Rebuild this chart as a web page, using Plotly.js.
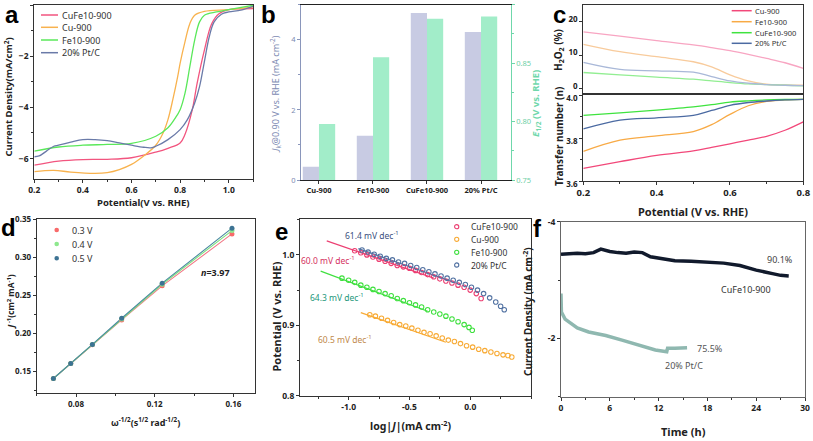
<!DOCTYPE html>
<html><head><meta charset="utf-8">
<script src="https://cdn.plot.ly/plotly-3.0.1.min.js"></script>
<style>html,body{margin:0;padding:0;background:#fff}#chart{width:813px;height:441px}</style>
</head><body><div id="chart"></div>
<script>
// ---------- Panel a : LSV ----------
const aV_CuFe = [0.2,0.3,0.4,0.5,0.6,0.7,0.75,0.8,0.82,0.85,0.87,0.9,0.93,0.96,1.0,1.05,1.1];
const aJ_CuFe = [-6.26,-6.10,-6.04,-6.03,-5.97,-5.75,-5.6,-5.39,-5.06,-4.1,-3.06,-1.76,-0.73,-0.34,-0.18,-0.15,-0.14];
const aV_Cu = [0.2,0.28,0.35,0.45,0.5,0.55,0.6,0.65,0.7,0.73,0.75,0.77,0.79,0.8,0.82,0.84,0.86,0.9,1.0,1.1];
const aJ_Cu = [-6.51,-6.46,-6.53,-6.58,-6.55,-6.43,-6.23,-5.9,-5.48,-5.0,-4.48,-3.7,-2.8,-2.28,-1.44,-0.73,-0.4,-0.25,-0.18,-0.08];
const aV_Fe = [0.2,0.3,0.4,0.5,0.6,0.7,0.75,0.78,0.8,0.82,0.84,0.86,0.88,0.9,0.95,1.0,1.1];
const aJ_Fe = [-5.71,-5.55,-5.48,-5.45,-5.41,-5.13,-4.8,-4.42,-4.09,-3.45,-2.41,-1.37,-0.66,-0.4,-0.27,-0.18,-0.01];
const aV_Pt = [0.2,0.22,0.25,0.28,0.3,0.35,0.4,0.45,0.5,0.55,0.6,0.65,0.68,0.7,0.75,0.8,0.83,0.86,0.88,0.9,0.92,0.94,0.97,1.0,1.05,1.1];
const aJ_Pt = [-5.93,-5.9,-5.71,-5.52,-5.48,-5.36,-5.26,-5.26,-5.30,-5.39,-5.48,-5.56,-5.58,-5.52,-5.26,-4.87,-4.48,-3.83,-3.19,-2.21,-1.24,-0.66,-0.36,-0.27,-0.2,-0.05];
const aNames = ['CuFe10-900','Cu-900','Fe10-900','20% Pt/C'];

// ---------- Panel b : bars ----------
const bCats = ['Cu-900','Fe10-900','CuFe10-900','20% Pt/C'];
const bJk = [0.38,1.26,4.76,4.22];
const bE12 = [0.798,0.855,0.888,0.890];

// ---------- Panel c : RRDE ----------
const cV = [0.2,0.3,0.4,0.5,0.55,0.6,0.65,0.7,0.75,0.8];
const cNames = ['Cu-900','Fe10-900','CuFe10-900','20% Pt/C'];
const cH2O2_Cu = [17.0,15.7,14.4,13.1,12.3,11.4,10.3,9.1,7.8,6.1];
const cH2O2_Fe = [13.3,11.1,9.6,8.1,6.6,4.2,2.4,1.4,1.2,1.1];
const cH2O2_CuFe = [4.9,4.2,3.5,2.9,2.4,1.9,1.5,1.3,1.1,0.9];
const cH2O2_Pt = [7.9,5.8,5.4,5.0,3.7,2.4,1.7,1.3,1.1,1.0];
const cN_Cu = [3.659,3.69,3.719,3.74,3.756,3.773,3.79,3.808,3.836,3.875];
const cN_Fe = [3.738,3.79,3.81,3.83,3.862,3.91,3.95,3.97,3.978,3.98];
const cN_CuFe = [3.905,3.917,3.93,3.945,3.955,3.967,3.973,3.977,3.979,3.98];
const cN_Pt = [3.842,3.883,3.894,3.905,3.928,3.952,3.965,3.972,3.977,3.98];

// ---------- Panel d : K-L ----------
const dW = [0.0685,0.0773,0.0883,0.1032,0.1238,0.1593];
const dJ_03 = [0.1404,0.1600,0.1848,0.2174,0.2622,0.3304];
const dJ_04 = [0.1404,0.1600,0.1850,0.2185,0.2643,0.3348];
const dJ_05 = [0.1404,0.1600,0.1852,0.2196,0.2657,0.3380];
const dNames = ['0.3 V','0.4 V','0.5 V'];

// ---------- Panel e : Tafel ----------
const eX_CuFe = [-0.95,-0.90,-0.85,-0.80,-0.75,-0.70,-0.65,-0.60,-0.55,-0.50,-0.45,-0.40,-0.35,-0.30,-0.25,-0.20,-0.15,-0.10,-0.05,0.00,0.05,0.09];
const eY_CuFe = [1.006,1.003,1.000,0.997,0.994,0.991,0.988,0.985,0.983,0.981,0.978,0.975,0.972,0.969,0.966,0.963,0.960,0.957,0.954,0.950,0.945,0.938];
const eX_Cu = [-0.826,-0.78,-0.73,-0.68,-0.63,-0.58,-0.53,-0.48,-0.43,-0.38,-0.33,-0.28,-0.23,-0.18,-0.13,-0.08,-0.03,0.02,0.07,0.12,0.17,0.22,0.27,0.31,0.342];
const eY_Cu = [0.915,0.913,0.910,0.907,0.904,0.901,0.899,0.896,0.893,0.890,0.888,0.885,0.882,0.879,0.877,0.874,0.871,0.869,0.866,0.864,0.862,0.860,0.858,0.857,0.855];
const eX_Fe = [-1.055,-1.0,-0.95,-0.90,-0.85,-0.80,-0.75,-0.70,-0.65,-0.60,-0.55,-0.50,-0.45,-0.40,-0.35,-0.30,-0.25,-0.20,-0.15,-0.10,-0.05,-0.01,0.017];
const eY_Fe = [0.967,0.964,0.961,0.957,0.954,0.951,0.948,0.945,0.942,0.938,0.935,0.932,0.929,0.926,0.922,0.919,0.916,0.913,0.909,0.905,0.901,0.897,0.893];
const eX_Pt = [-0.89,-0.84,-0.79,-0.74,-0.69,-0.64,-0.59,-0.54,-0.49,-0.44,-0.39,-0.34,-0.29,-0.24,-0.19,-0.14,-0.09,-0.04,0.01,0.06,0.11,0.16,0.21,0.25,0.28];
const eY_Pt = [1.007,1.004,1.001,0.998,0.995,0.993,0.990,0.988,0.985,0.982,0.979,0.976,0.973,0.970,0.967,0.964,0.961,0.958,0.954,0.950,0.945,0.939,0.933,0.927,0.922];
const eFitX_CuFe = [-1.18,-0.30], eFitY_CuFe = [1.020,0.967];
const eFitX_Cu = [-0.90,-0.20], eFitY_Cu = [0.918,0.876];
const eFitX_Fe = [-1.23,-0.35], eFitY_Fe = [0.977,0.920];
const eFitX_Pt = [-0.92,-0.10], eFitY_Pt = [1.009,0.959];
const eNames = ['CuFe10-900','Cu-900','Fe10-900','20% Pt/C'];
const eSlopes = ['61.4 mV dec<sup>-1</sup>','60.0 mV dec<sup>-1</sup>','64.3 mV dec<sup>-1</sup>','60.5 mV dec<sup>-1</sup>'];

// ---------- Panel f : stability ----------
const fT_CuFe = [0,1,2,3,4,4.9,6,7,8,9,10,11,12,14,16,18,20,22,24,26,27,28];
const fJ_CuFe = [-3.44,-3.45,-3.46,-3.45,-3.47,-3.53,-3.49,-3.47,-3.46,-3.48,-3.47,-3.40,-3.38,-3.33,-3.32,-3.31,-3.29,-3.25,-3.17,-3.11,-3.08,-3.07];
const fT_Pt = [0,0.05,0.5,1.4,2,3.4,5.5,7.5,9.6,11,11.6,13,13.1,14,15.5];
const fJ_Pt = [-2.77,-2.45,-2.33,-2.23,-2.18,-2.11,-2.05,-1.97,-1.89,-1.83,-1.80,-1.77,-1.83,-1.83,-1.84];
const fLabels = ['90.1%','CuFe10-900','75.5%','20% Pt/C'];

// ================= layout helpers =================
const W = 813, H = 441;
const px = v => v / W, py = v => 1 - v / H;
const FONT = 'Noto Sans, Open Sans, sans-serif';
const dom = (a, b) => [px(a), px(b)];
const domY = (top, bot) => [py(bot), py(top)];
function axis(o) {
  return Object.assign({
    showline: true, linecolor: '#333', linewidth: 1, mirror: true,
    ticks: 'outside', ticklen: 3, tickwidth: 1, tickcolor: '#333',
    showgrid: false, zeroline: false, fixedrange: true,
    tickfont: {family: FONT, size: 8.5, color: '#222', weight: 'bold'}
  }, o);
}

const traces = [];
// a
const aCol = ['#f2557f','#f8b24e','#5ae85a','#6a7aa8'];
[[aV_CuFe,aJ_CuFe],[aV_Cu,aJ_Cu],[aV_Fe,aJ_Fe],[aV_Pt,aJ_Pt]].forEach((s,i)=>{
  traces.push({x:s[0], y:s[1], name:aNames[i], mode:'lines', line:{color:aCol[i], width:1.3, shape:'spline'}, xaxis:'x', yaxis:'y'});
});
// b
traces.push({x:bCats, y:bJk, type:'bar', name:'J_k', marker:{color:'#c8cbe3'}, xaxis:'x2', yaxis:'y2', offsetgroup:'g1'});
traces.push({x:bCats, y:bE12, type:'bar', name:'E_1/2', marker:{color:'#a2edc9'}, xaxis:'x2', yaxis:'y3', offsetgroup:'g2'});
// c
const cCol = ['#f2487a','#f8aa45','#3fe33f','#4b6aa2'];
const cColL = ['#f8a5c2','#f8cb9c','#92ee92','#a9b8d8'];
[cH2O2_Cu,cH2O2_Fe,cH2O2_CuFe,cH2O2_Pt].forEach((s,i)=>{
  traces.push({x:cV, y:s, name:cNames[i], mode:'lines', line:{color:cColL[i], width:1.3, shape:'spline'}, xaxis:'x4', yaxis:'y4'});
});
[cN_Cu,cN_Fe,cN_CuFe,cN_Pt].forEach((s,i)=>{
  traces.push({x:cV, y:s, name:cNames[i], mode:'lines', line:{color:cCol[i], width:1.3, shape:'spline'}, xaxis:'x3', yaxis:'y5'});
});
// d
const dColM = ['#f86a6a','#8ee88e','#3d7393'];
const dColL = ['#f27a88','#7ee27e','#4a8aa0'];
[dJ_03,dJ_04,dJ_05].forEach((s,i)=>{
  traces.push({x:dW, y:s, mode:'lines', name:dNames[i]+' fit', line:{color:dColL[i], width:1.1}, xaxis:'x5', yaxis:'y6'});
});
[dJ_03,dJ_04,dJ_05].forEach((s,i)=>{
  traces.push({x:dW, y:s, name:dNames[i], mode:'markers', marker:{color:dColM[i], size:5}, xaxis:'x5', yaxis:'y6'});
});
// e
const eCol = ['#ec3f72','#f8ab36','#3fe03f','#5272a2'];
[[eFitX_CuFe,eFitY_CuFe],[eFitX_Cu,eFitY_Cu],[eFitX_Fe,eFitY_Fe],[eFitX_Pt,eFitY_Pt]].forEach((s,i)=>{
  traces.push({x:s[0], y:s[1], mode:'lines', name:eNames[i]+' fit', line:{color:eCol[i], width:1.2}, xaxis:'x6', yaxis:'y7'});
});
[[eX_CuFe,eY_CuFe],[eX_Cu,eY_Cu],[eX_Fe,eY_Fe],[eX_Pt,eY_Pt]].forEach((s,i)=>{
  traces.push({x:s[0], y:s[1], name:eNames[i], mode:'markers', marker:{symbol:'circle-open', color:eCol[i], size:4.5, line:{width:1.1}}, xaxis:'x6', yaxis:'y7'});
});
// f
traces.push({x:fT_Pt, y:fJ_Pt, mode:'lines', name:'20% Pt/C', line:{color:'#8fb8b0', width:3.5}, xaxis:'x7', yaxis:'y8'});
traces.push({x:fT_CuFe, y:fJ_CuFe, mode:'lines', name:'CuFe10-900', line:{color:'#111a2c', width:3.5}, xaxis:'x7', yaxis:'y8'});

const cTick = {family:FONT,size:8,color:'#222',weight:'bold'};
const layout = {
  width: W, height: H, margin: {l:0, r:0, t:0, b:0},
  paper_bgcolor: '#fff', plot_bgcolor: 'rgba(0,0,0,0)',
  bargap: 0.4, bargroupgap: 0, showlegend: false,
  // a
  xaxis: axis({domain: dom(34.3,253), range:[0.2,1.1], tickvals:[0.2,0.4,0.6,0.8,1.0], ticktext:['0.2','0.4','0.6','0.8','1.0'], anchor:'y', minor:{ticks:'outside', ticklen:2, dtick:0.1, tickcolor:'#333'}}),
  yaxis: axis({domain: domY(5,179), range:[-6.8,0], dtick:2, anchor:'x', minor:{ticks:'outside', ticklen:2, dtick:1, tickcolor:'#333'}}),
  // b
  xaxis2: axis({domain: dom(301,510.7), range:[-0.333,3.55], anchor:'y2', linecolor:'#222', tickfont:{family:FONT,size:7.5,color:'#222',weight:'bold'}}),
  yaxis2: axis({domain: domY(4.7,180), range:[0,5], dtick:2, anchor:'x2', mirror:false, linecolor:'#8a96bb', tickcolor:'#8a96bb', minor:{ticks:'outside', ticklen:2, dtick:1, tickcolor:'#8a96bb'}, tickfont:{family:FONT,size:7.5,color:'#7d8ab2'}}),
  yaxis3: axis({domain: domY(4.7,180), range:[0.75,0.90], dtick:0.05, tickformat:'.2f', anchor:'x2', overlaying:'y2', side:'right', mirror:false, linecolor:'#6fd7ab', tickcolor:'#6fd7ab', minor:{ticks:'outside', ticklen:2, dtick:0.025, tickcolor:'#6fd7ab'}, tickfont:{family:FONT,size:7.5,color:'#6fcfa6'}}),
  // c
  xaxis3: axis({domain: dom(583.3,803.3), range:[0.2,0.8], dtick:0.2, tickformat:'.1f', anchor:'y5', minor:{ticks:'outside', ticklen:2, dtick:0.1, tickcolor:'#333'}, tickfont:{family:FONT,size:9.5,color:'#222',weight:'bold'}}),
  xaxis4: axis({domain: dom(583.3,803.3), range:[0.2,0.8], matches:'x3', anchor:'y4', showticklabels:false, ticks:'', linewidth:1.2}),
  yaxis4: axis({domain: domY(5,93.3), range:[-1.3,25], tickvals:[0,10,20], anchor:'x4', ticklabelshift:-3, tickfont:cTick}),
  yaxis5: axis({domain: domY(95,181), range:[3.6,4.0], dtick:0.2, tickformat:'.1f', anchor:'x3', ticklabelshift:3, minor:{ticks:'outside', ticklen:2, dtick:0.1, tickcolor:'#333'}, tickfont:cTick}),
  // d
  xaxis5: axis({domain: dom(36.7,255), range:[0.06,0.171], tickvals:[0.08,0.12,0.16], ticktext:['0.08','0.12','0.16'], anchor:'y6', minor:{ticks:'outside', ticklen:2, dtick:0.02, tickcolor:'#333'}, tickfont:{family:FONT,size:8,color:'#222',weight:'bold'}}),
  yaxis6: axis({domain: domY(219,393.3), range:[0.121,0.35], tickvals:[0.15,0.20,0.25,0.30,0.35], ticktext:['0.15','0.20','0.25','0.30','0.35'], anchor:'x5', minor:{ticks:'outside', ticklen:2, dtick:0.025, tickcolor:'#333'}, tickfont:{family:FONT,size:8,color:'#222',weight:'bold'}}),
  // e
  xaxis6: axis({domain: dom(300,531), range:[-1.4,0.5], tickvals:[-1.0,-0.5,0.0], ticktext:['-1.0','-0.5','0.0'], anchor:'y7', minor:{ticks:'outside', ticklen:2, dtick:0.25, tickcolor:'#333'}, tickfont:{family:FONT,size:8.5,color:'#222',weight:'bold'}}),
  yaxis7: axis({domain: domY(219,395.7), range:[0.8,1.051], tickvals:[0.8,0.9,1.0], ticktext:['0.8','0.9','1.0'], anchor:'x6', minor:{ticks:'outside', ticklen:2, dtick:0.05, tickcolor:'#333'}, tickfont:{family:FONT,size:8.5,color:'#222',weight:'bold'}}),
  // f
  xaxis7: axis({domain: dom(561,805), range:[0,30], dtick:6, anchor:'y8', minor:{ticks:'outside', ticklen:2, dtick:3, tickcolor:'#333'}, linecolor:'#666', tickfont:{family:FONT,size:8.5,color:'#222',weight:'bold'}}),
  yaxis8: axis({domain: domY(221.7,396.7), range:[-1,-4], tickvals:[-4,-2], ticktext:['-4','-2'], anchor:'x7', linecolor:'#666', minor:{ticks:'outside', ticklen:2, tickvals:[-3,-1], tickcolor:'#333'}, tickfont:{family:FONT,size:8.5,color:'#222',weight:'bold'}}),
  annotations: [],
  shapes: []
};

function ann(text, x, y, o) {
  layout.annotations.push(Object.assign({text, x:px(x), y:py(y), xref:'paper', yref:'paper', showarrow:false, xanchor:'center', yanchor:'middle', font:{family:FONT, size:10, color:'#222', weight:'bold'}}, o||{}));
}
// legend swatches drawn as paper-space shapes next to text labels
function legLine(names, colors, x0, x1, ys, tx, size) {
  names.forEach((n,i)=>{
    layout.shapes.push({type:'line', xref:'paper', yref:'paper', x0:px(x0), x1:px(x1), y0:py(ys[i]), y1:py(ys[i]), line:{color:colors[i], width:1.5}});
    ann(n, tx, ys[i], {xanchor:'left', font:{family:FONT, size:size, color:'#333'}});
  });
}
function legDot(names, colors, cx, r, ys, tx, size, open) {
  names.forEach((n,i)=>{
    layout.shapes.push({type:'circle', xref:'paper', yref:'paper', x0:px(cx-r), x1:px(cx+r), y0:py(ys[i]+r), y1:py(ys[i]-r),
      line:{color:colors[i], width: open?1.1:0}, fillcolor: open?'rgba(0,0,0,0)':colors[i]});
    ann(n, tx, ys[i], {xanchor:'left', font:{family:FONT, size:size, color:'#333'}});
  });
}
legLine(aNames, aCol, 41, 58, [15,27.3,40,52.7], 60, 9);
legLine(cNames, cCol, 731.7, 751.7, [10.7,21.7,32.7,43.3], 752.5, 7.5);
legDot(dNames, dColM, 56.7, 2.3, [230,244,258.3], 69.5, 9, false);
legDot(eNames, eCol, 456.7, 2.1, [226.7,239.3,252.3,265], 469, 8.5, true);

const letter = {family:'Liberation Sans, Arial, sans-serif', size:24, color:'#000', weight:'bold'};
const Ltop = {font:letter, borderpad:0, yanchor:'top'};
ann('a', 12, 0, Ltop);
ann('b', 268, 0, Ltop);
ann('c', 559.5, 0.5, Ltop);
ann('d', 8, 227, {font:letter, borderpad:0});
ann('e', 281, 231, {font:letter, borderpad:0});
ann('f', 537, 229, {font:letter, borderpad:0});
// axis titles
ann('Current Density(mA/cm<sup>2</sup>)', 8.5, 97, {textangle:-90, font:{family:FONT,size:9.5,color:'#222',weight:'bold'}});
ann('Potential(V vs. RHE)', 143, 203, {font:{family:FONT,size:9.5,color:'#222',weight:'bold'}});
ann('<i>J</i><sub>k</sub>@0.90 V vs. RHE (mA cm<sup>-2</sup>)', 276, 94, {textangle:-90, font:{family:FONT,size:9,color:'#7d8ab2'}});
ann('<i>E</i><sub>1/2</sub> (V vs. RHE)', 536, 104, {textangle:-90, font:{family:FONT,size:9.5,color:'#6fd7ab',weight:'bold'}});
ann('H<sub>2</sub>O<sub>2</sub> (%)', 559, 50, {textangle:-90, font:{family:FONT,size:10,color:'#222',weight:'bold'}});
ann('Transfer number (n)', 559, 137, {textangle:-90, font:{family:FONT,size:10,color:'#222',weight:'bold'}});
ann('Potential (V vs. RHE)', 693, 211, {font:{family:FONT,size:11,color:'#222',weight:'bold'}});
ann('<i>J</i><sup> -1</sup>(cm<sup>2</sup> mA<sup>-1</sup>)', 10.5, 302, {textangle:-90, font:{family:FONT,size:8.5,color:'#222',weight:'bold'}});
ann('ω<sup>-1/2</sup>(s<sup>1/2</sup> rad<sup>-1/2</sup>)', 145, 421.5, {font:{family:FONT,size:9,color:'#222',weight:'bold'}});
ann('<i>n</i>=3.97', 215, 272, {font:{family:FONT,size:9,color:'#222',weight:'bold'}});
ann('Potential (V vs. RHE)', 275.5, 317, {textangle:-90, font:{family:FONT,size:11,color:'#222',weight:'bold'}});
ann('log|<i>J</i>|(mA cm<sup>-2</sup>)', 410, 425.5, {font:{family:FONT,size:10.5,color:'#222',weight:'bold'}});
ann(eSlopes[0], 372, 234.5, {font:{family:FONT,size:8.5,color:'#3b4f7e'}});
ann(eSlopes[1], 328, 259.5, {font:{family:FONT,size:8.5,color:'#d4305e'}});
ann(eSlopes[2], 337, 296.5, {font:{family:FONT,size:8.5,color:'#23977a'}});
ann(eSlopes[3], 345, 339, {font:{family:FONT,size:8.5,color:'#c0884a'}});
ann('Current Density (mA cm<sup>-2</sup>)', 528, 312, {textangle:-90, font:{family:FONT,size:10,color:'#222',weight:'bold'}});
ann('Time (h)', 683, 431.5, {font:{family:FONT,size:11,color:'#222',weight:'bold'}});
ann(fLabels[0], 780, 259.5, {font:{family:FONT,size:9,color:'#444'}});
ann(fLabels[1], 746, 289, {font:{family:FONT,size:9,color:'#333'}});
ann(fLabels[2], 710, 348.5, {font:{family:FONT,size:9,color:'#555'}});
ann(fLabels[3], 684, 365.5, {font:{family:FONT,size:9,color:'#555'}});

Plotly.newPlot('chart', traces, layout, {staticPlot:true, displayModeBar:false});
</script></body></html>
